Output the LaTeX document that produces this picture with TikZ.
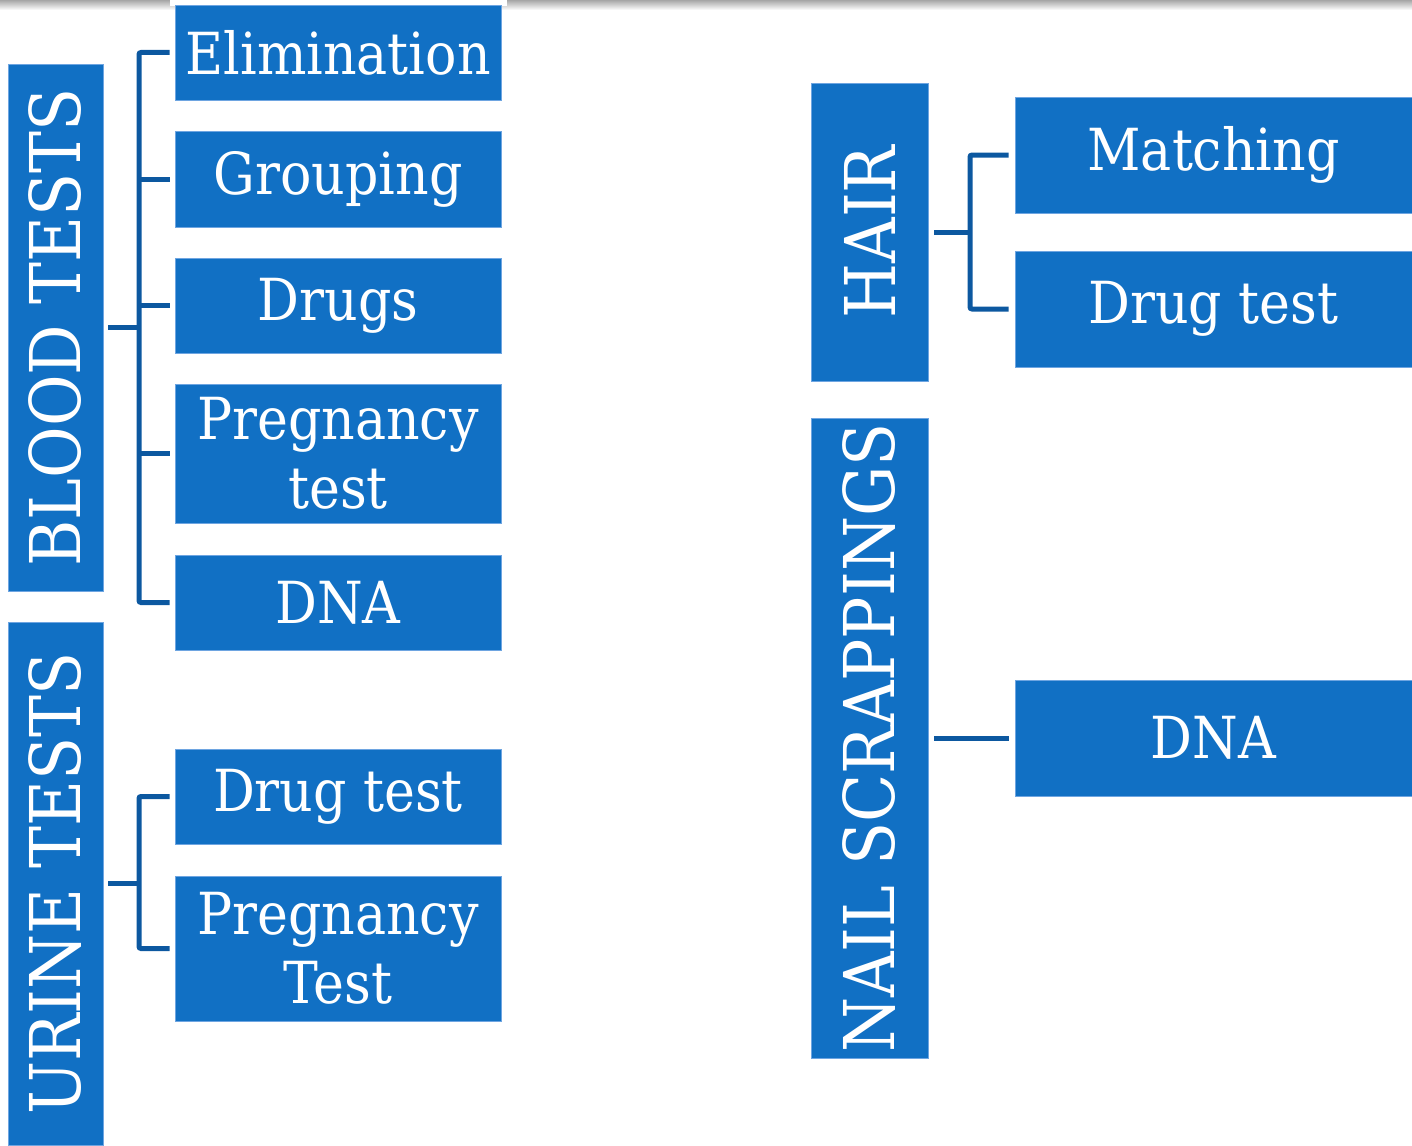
\documentclass[tikz,border=0pt]{standalone}
\usepackage{fontspec}
\setmainfont{DejaVu Serif Condensed}
\definecolor{boxblue}{RGB}{17,112,196}
\definecolor{edgeblue}{RGB}{110,165,225}
\definecolor{connblue}{RGB}{12,88,160}
\begin{document}
\begin{tikzpicture}[x=1pt,y=-1pt,
  box/.style={fill=boxblue,draw=edgeblue,line width=0.8pt,text=white,align=center,
    inner sep=0pt,font=\fontsize{58}{69}\selectfont},
  catbox/.style={box,rotate=90,font=\fontsize{70}{80}\selectfont},
  conn/.style={draw=connblue,line width=5pt,rounded corners=2pt}]
\useasboundingbox (0,0) rectangle (1412,1145);
\shade[top color=black!35,bottom color=white] (0,0) rectangle (1412,10);
\fill[white] (170,0) rectangle (507,6);
% left categories
\node[catbox,minimum width=527,minimum height=95] (blood) at (55.5,327.5) {BLOOD TESTS};
\node[catbox,minimum width=523,minimum height=95] (urine) at (55.5,883.5) {URINE TESTS};
% left tests
\node[box,minimum width=326,minimum height=95] (elim) at (338,52.5) {Elimination};
\node[box,minimum width=326,minimum height=96] (group) at (338,179) {Grouping};
\node[box,minimum width=326,minimum height=95] (drugs) at (338,305.5) {Drugs};
\node[box,minimum width=326,minimum height=139] (preg) at (338,453.5) {Pregnancy\\test};
\node[box,minimum width=326,minimum height=95] (dnaA) at (338,602.5) {DNA};
\node[box,minimum width=326,minimum height=95] (udrug) at (338,796.5) {Drug test};
\node[box,minimum width=326,minimum height=145] (upreg) at (338,948.5) {Pregnancy\\Test};
% right categories
\node[catbox,minimum width=298,minimum height=117] (hair) at (869.5,232) {HAIR};
\node[catbox,minimum width=640,minimum height=117] (nail) at (869.5,738) {NAIL SCRAPPINGS};
% right tests
\node[box,minimum width=397,minimum height=116] (match) at (1213.5,155) {Matching};
\node[box,minimum width=397,minimum height=116] (hdrug) at (1213.5,309) {Drug test};
\node[box,minimum width=397,minimum height=116] (dnaB) at (1213.5,738) {DNA};
% blood connectors
\coordinate (bv) at (139,0);
\draw[conn] ([xshift=5pt]blood.south) -- (bv |- blood.south);
\draw[conn] ([xshift=-5pt]elim.west) -- (bv |- elim.west) -- (bv |- dnaA.west) -- ([xshift=-5pt]dnaA.west);
\draw[conn] (bv |- group.west) -- ([xshift=-5pt]group.west);
\draw[conn] (bv |- drugs.west) -- ([xshift=-5pt]drugs.west);
\draw[conn] (bv |- preg.west) -- ([xshift=-5pt]preg.west);
% urine connectors
\draw[conn] ([xshift=5pt]urine.south) -- (bv |- urine.south);
\draw[conn] ([xshift=-5pt]udrug.west) -- (bv |- udrug.west) -- (bv |- upreg.west) -- ([xshift=-5pt]upreg.west);
% hair connectors
\coordinate (hv) at (970,0);
\draw[conn] ([xshift=6pt]hair.south) -- (hv |- hair.south);
\draw[conn] ([xshift=-6pt]match.west) -- (hv |- match.west) -- (hv |- hdrug.west) -- ([xshift=-6pt]hdrug.west);
% nail connector
\draw[conn] ([xshift=6pt]nail.south) -- ([xshift=-6pt]dnaB.west);
\end{tikzpicture}
\end{document}
